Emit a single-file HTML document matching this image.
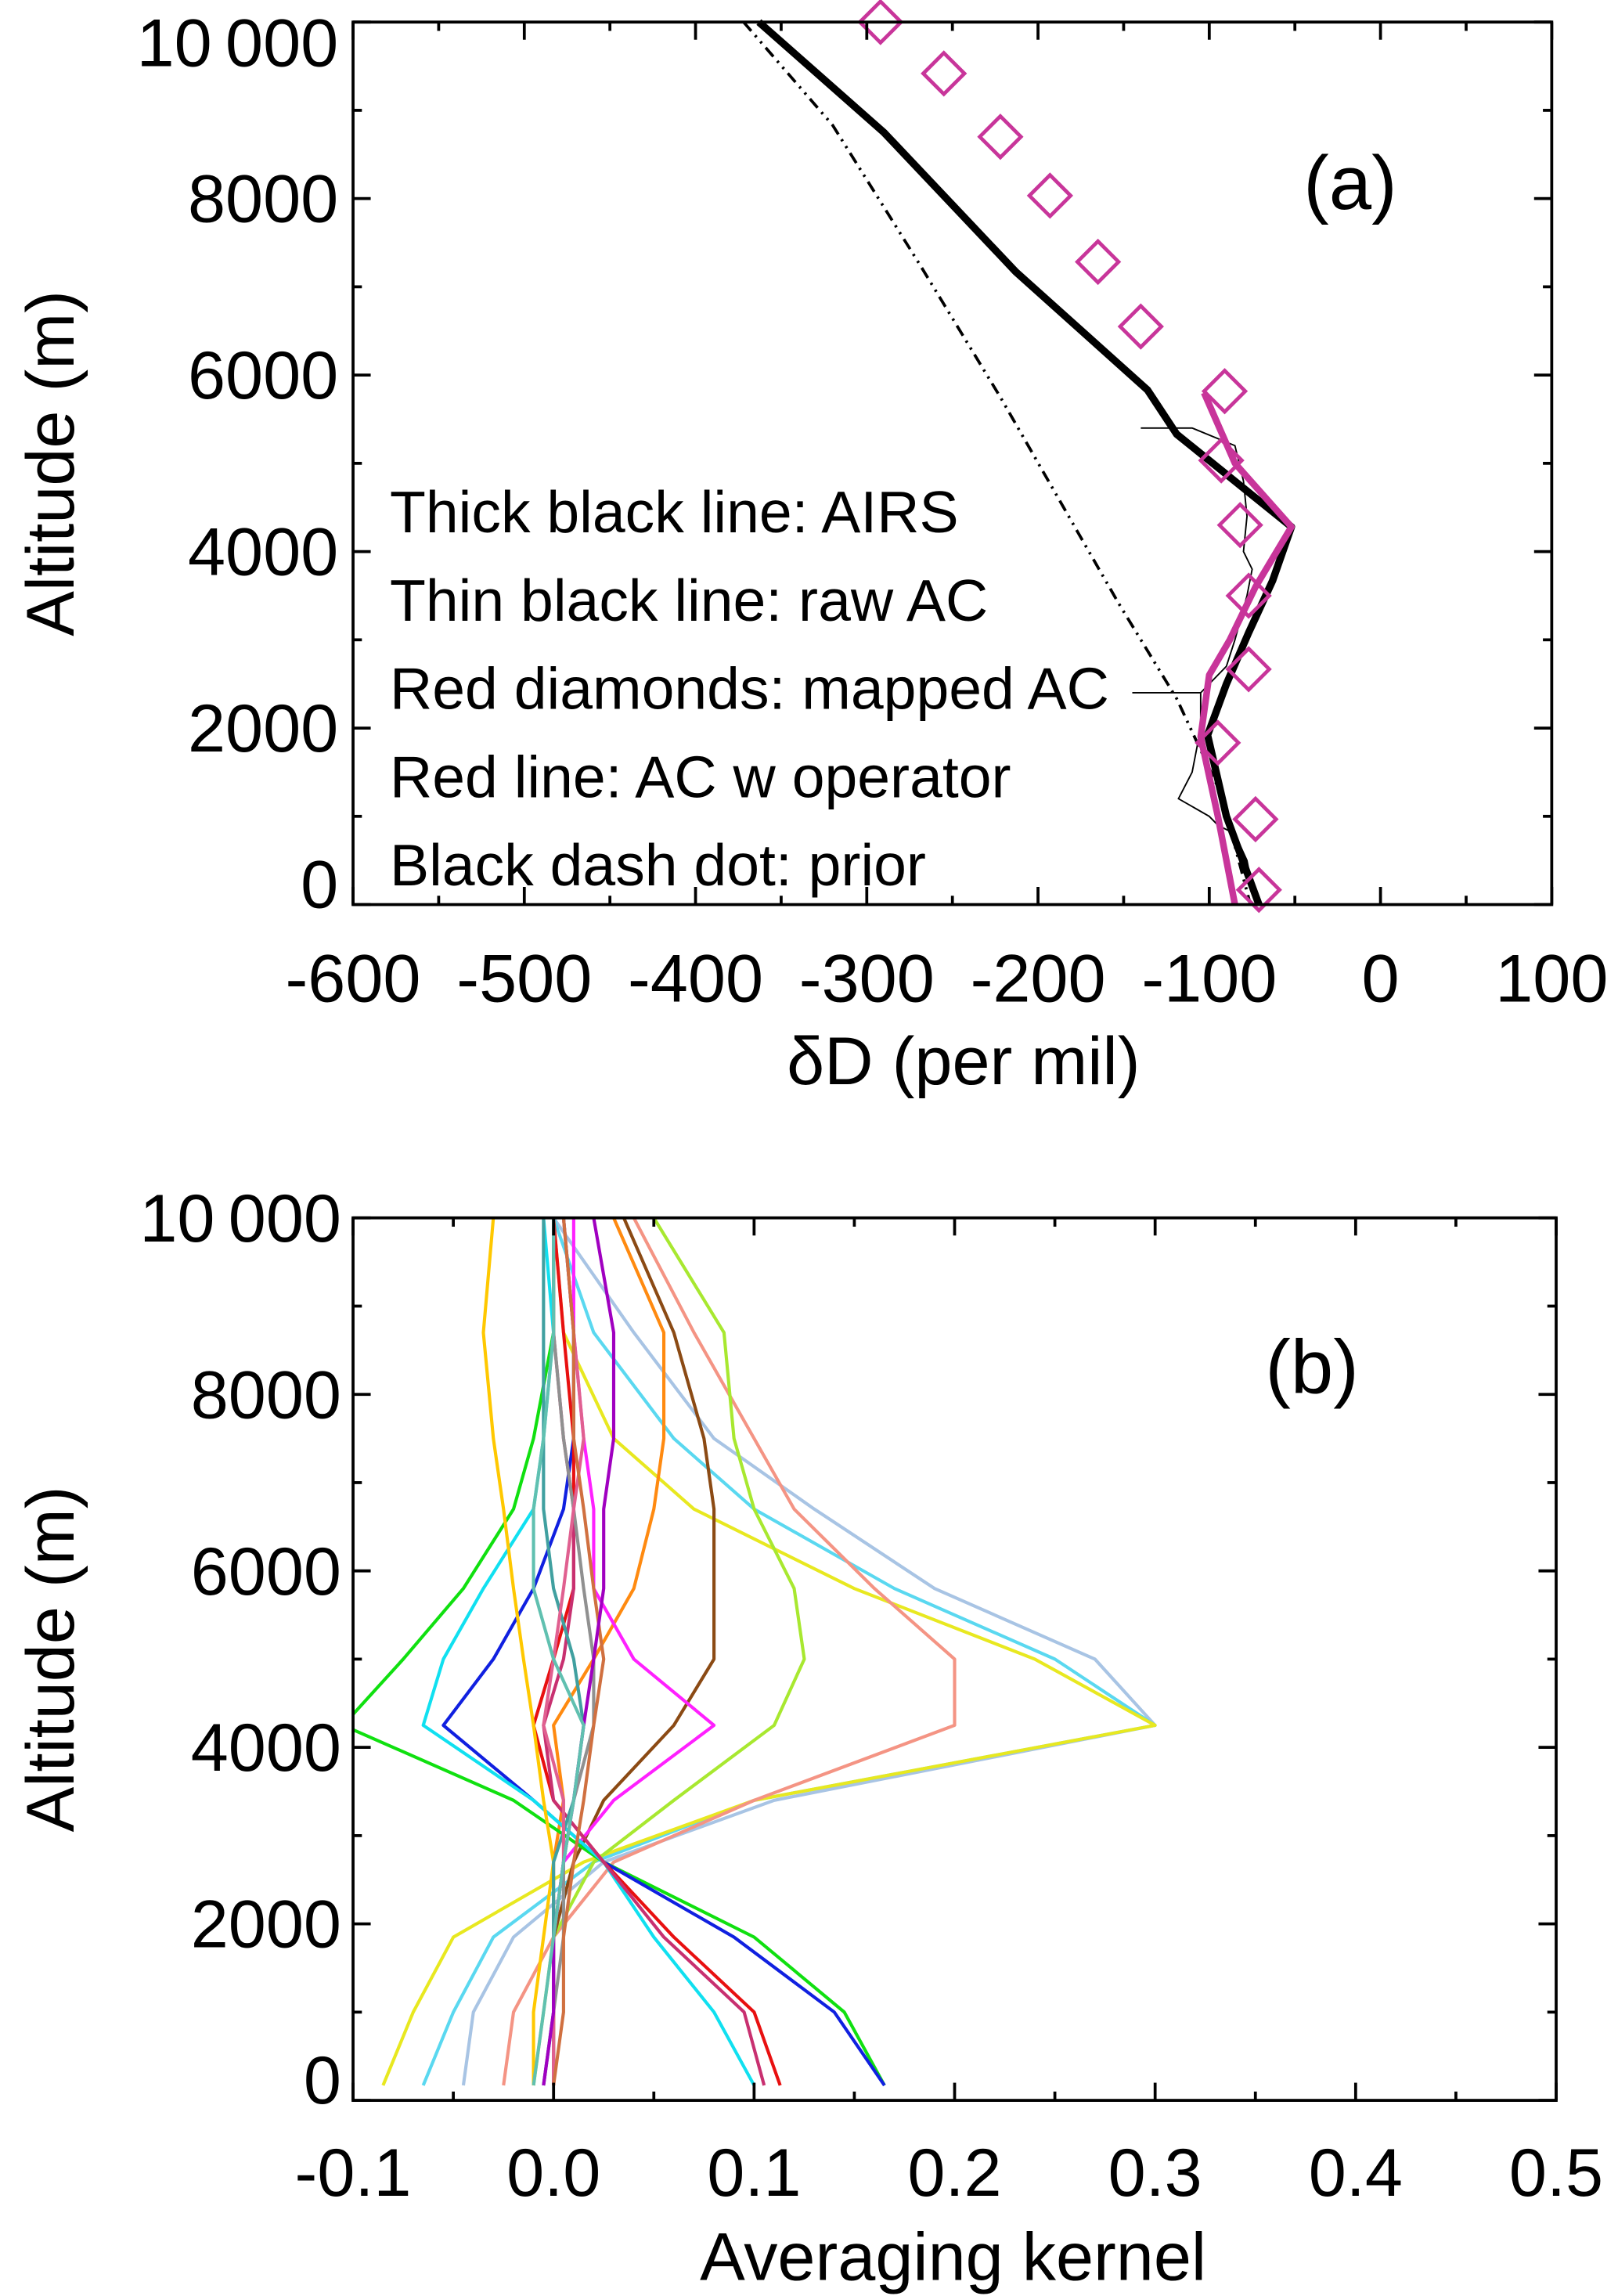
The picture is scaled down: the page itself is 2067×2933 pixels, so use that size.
<!DOCTYPE html>
<html><head><meta charset="utf-8"><style>
html,body{margin:0;padding:0;background:#fff}
svg{display:block}
text{font-family:"Liberation Sans",sans-serif;fill:#000}
</style></head><body>
<svg id="fig" width="2067" height="2933" viewBox="0 0 1100 1561" xmlns="http://www.w3.org/2000/svg">
<g id="pa"></g>
<g id="pb"></g>
</svg>
<script>
// ---- Panel (a) data ----
const aTicksX = [-600,-500,-400,-300,-200,-100,0,100];
const aTicksY = [0,2000,4000,6000,8000,10000];
const aTickLabelsY = ["0","2000","4000","6000","8000","10\u2009000"];
const airsAlt = [10000,8750,7170,5830,5330,4280,3670,3080,2500,1920,1000,0];
const airsVal = [-363,-290,-213,-136,-119,-52,-63,-77,-90,-101,-90,-71];
const opAlt = [5800,5000,4280,3600,3000,2600,1900,1000,0];
const opVal = [-103,-85,-52,-73,-88,-100,-105,-95,-85];
const diaAlt = [10000,9417,8700,8033,7283,6550,5817,5033,4300,3500,2667,1833,967,167];
const diaVal = [-292,-255,-222,-193,-165,-140,-91,-93,-82,-77,-77,-95,-73,-71];
const priorAlt = [10000,8833,7250,5750,3417,2333,1250,0];
const priorVal = [-372,-320,-269,-222,-153,-119,-93,-76];
const rawAlt = [5400,5400,5200,4800,4400,4000,3800,3500,3000,2700,2400,2400,2400,2000,1500,1200,1000,900,800,500,200];
const rawVal = [-140,-110,-85,-80,-78,-80,-75,-78,-85,-90,-105,-145,-105,-105,-110,-118,-100,-95,-85,-78,-75];

// ---- Panel (b) data ----
const bTicksX = [-0.1,0.0,0.1,0.2,0.3,0.4,0.5];
const bTicksY = [0,2000,4000,6000,8000,10000];
const kAlt = [170,1000,1850,2700,3400,4250,5000,5800,6700,7500,8700,10000];
const kColors = ["#a8c4e4","#5ad8f0","#e8e820","#f49484","#a8e830","#8b4a14","#ff8a10","#ff20ff","#10e010","#1020e0","#10e0f0","#e81010","#c83070","#ffc800","#40a0a0","#909090","#e06090","#d07040","#a000c0","#60c0b0"];
const k0 = [-0.045,-0.04,-0.02,0.025,0.11,0.30,0.27,0.19,0.13,0.08,0.04,0.0];
const k1 = [-0.065,-0.05,-0.03,0.02,0.10,0.30,0.25,0.17,0.10,0.06,0.02,0.0];
const k2 = [-0.085,-0.07,-0.05,0.015,0.10,0.30,0.24,0.15,0.07,0.03,0.005,0.0];
const k3 = [-0.025,-0.02,0.0,0.03,0.10,0.20,0.20,0.16,0.12,0.10,0.07,0.04];
const k4 = [-0.01,-0.005,0.0,0.02,0.06,0.11,0.125,0.12,0.10,0.09,0.085,0.05];
const k5 = [0.0,0.0,0.0,0.01,0.025,0.06,0.08,0.08,0.08,0.075,0.06,0.035];
const k6 = [0.0,0.0,0.0,0.0,0.005,0.0,0.02,0.04,0.05,0.055,0.055,0.03];
const k7 = [-0.005,0.0,0.0,0.005,0.03,0.08,0.04,0.02,0.02,0.015,0.01,0.01];
const k8 = [0.165,0.145,0.10,0.025,-0.02,-0.105,-0.075,-0.045,-0.02,-0.01,0.0,0.0];
const k9 = [0.165,0.14,0.09,0.025,-0.01,-0.055,-0.03,-0.01,0.005,0.01,0.01,0.005];
const k10 = [0.10,0.08,0.05,0.025,-0.01,-0.065,-0.055,-0.035,-0.01,-0.005,0.0,-0.005];
const k11 = [0.113,0.10,0.06,0.025,0.0,-0.01,0.0,0.01,0.01,0.01,0.005,0.0];
const k12 = [0.105,0.095,0.055,0.025,0.0,-0.005,0.005,0.01,0.01,0.005,0.0,0.0];
const k13 = [-0.01,-0.01,-0.005,0.0,-0.005,-0.01,-0.015,-0.02,-0.025,-0.03,-0.035,-0.03];
const k14 = [-0.005,0.0,0.0,0.0,0.01,0.015,0.01,0.0,-0.005,-0.005,-0.005,-0.005];
const k15 = [0.0,0.0,0.005,0.005,0.01,0.02,0.02,0.015,0.01,0.005,0.0,0.0];
const k16 = [0.0,0.0,0.0,0.005,0.005,-0.005,0.0,0.005,0.01,0.015,0.01,0.005];
const k17 = [0.0,0.005,0.005,0.01,0.015,0.02,0.025,0.02,0.015,0.01,0.01,0.005];
const k18 = [-0.005,0.0,0.0,0.005,0.01,0.015,0.02,0.025,0.025,0.03,0.03,0.02];
const k19 = [-0.01,-0.005,0.0,0.005,0.01,0.015,0.0,-0.01,-0.01,-0.005,0.0,0.0];
const kSeries = [k0,k1,k2,k3,k4,k5,k6,k7,k8,k9,k10,k11,k12,k13,k14,k15,k16,k17,k18,k19];

const NS = "http://www.w3.org/2000/svg";
function mk(parent, tag, attrs, name){
  const e = document.createElementNS(NS, tag);
  for (const k in attrs) e.setAttribute(k, attrs[k]);
  
  
  parent.appendChild(e);
  return e;
}
function txt(parent, x, y, s, size, anchor, name, fill, extra){
  const t = mk(parent, 'text', Object.assign({x:x, y:y, 'font-size':size, 'text-anchor':anchor||'start'}, extra||{}), name);
  if (fill) t.setAttribute('fill', fill);
  t.textContent = s;
  return t;
}
function pathOf(xs, ys, fx, fy){
  return xs.map((v,i)=>(i?'L':'M')+fx(v).toFixed(1)+','+fy(ys[i]).toFixed(1)).join(' ');
}
const TF = 46;

// ---- Panel (a) ----
const pa = document.getElementById('pa');
const aL=240,aR=1055,aT=15,aB=615;
const ax = v => aL + (v+600)/700*(aR-aL);
const ay = v => aB - v/10000*(aB-aT);
mk(pa,'path',{d:pathOf(priorVal,priorAlt,ax,ay),fill:'none',stroke:'#000','stroke-width':2,'stroke-dasharray':'8,4,1.5,4,1.5,4'},'prior-line');
mk(pa,'path',{d:pathOf(rawVal,rawAlt,ax,ay),fill:'none',stroke:'#000','stroke-width':1},'raw-ac-line');
mk(pa,'path',{d:pathOf(airsVal,airsAlt,ax,ay),fill:'none',stroke:'#000','stroke-width':5,'stroke-linejoin':'round'},'airs-line');
mk(pa,'path',{d:pathOf(opVal,opAlt,ax,ay),fill:'none',stroke:'#c8359a','stroke-width':4.5,'stroke-linejoin':'round'},'ac-operator-line');
diaVal.forEach((v,i)=>{
  const cx=ax(v), cy=ay(diaAlt[i]), r=14;
  mk(pa,'path',{d:`M${cx},${cy-r} L${cx+r},${cy} L${cx},${cy+r} L${cx-r},${cy} Z`,fill:'none',stroke:'#c8359a','stroke-width':2.5},'mapped-ac-diamond');
});
mk(pa,'rect',{x:aL,y:aT,width:aR-aL,height:aB-aT,fill:'none',stroke:'#000','stroke-width':2},'plot-frame-a');
aTicksX.forEach(v=>{
  mk(pa,'line',{x1:ax(v),x2:ax(v),y1:aB,y2:aB-12,stroke:'#000','stroke-width':2},'x-tick-a');
  mk(pa,'line',{x1:ax(v),x2:ax(v),y1:aT,y2:aT+12,stroke:'#000','stroke-width':2},'x-tick-a-top');
  txt(pa,ax(v),681,String(v),TF,'middle','x-tick-label-a');
});
for(let v=-550;v<100;v+=100){
  mk(pa,'line',{x1:ax(v),x2:ax(v),y1:aB,y2:aB-6,stroke:'#000','stroke-width':2},'x-minor-tick-a');
  mk(pa,'line',{x1:ax(v),x2:ax(v),y1:aT,y2:aT+6,stroke:'#000','stroke-width':2},'x-minor-tick-a-top');
}
aTicksY.forEach((v,i)=>{
  mk(pa,'line',{x1:aL,x2:aL+12,y1:ay(v),y2:ay(v),stroke:'#000','stroke-width':2},'y-tick-a');
  mk(pa,'line',{x1:aR,x2:aR-12,y1:ay(v),y2:ay(v),stroke:'#000','stroke-width':2},'y-tick-a-right');
  txt(pa,230,(v===10000?aT+14:ay(v))+(v===0?2:16),aTickLabelsY[i],TF,'end','y-tick-label-a');
});
for(let v=1000;v<10000;v+=2000){
  mk(pa,'line',{x1:aL,x2:aL+6,y1:ay(v),y2:ay(v),stroke:'#000','stroke-width':2},'y-minor-tick-a');
  mk(pa,'line',{x1:aR,x2:aR-6,y1:ay(v),y2:ay(v),stroke:'#000','stroke-width':2},'y-minor-tick-a-right');
}
txt(pa,655,737,'δD (per mil)',TF,'middle','x-axis-title-a');
txt(pa,0,0,'Altitude (m)',TF,'middle','y-axis-title-a',null,{transform:'translate(50,315) rotate(-90)'});
txt(pa,918,142,'(a)',52,'middle','panel-label-a');
const legA=[['Thick black line: AIRS','#000'],['Thin black line: raw AC','#000'],['Red diamonds: mapped AC','#c8359a'],['Red line: AC w operator','#c8359a'],['Black dash dot: prior','#000']];
legA.forEach((l,i)=>txt(pa,265,362+i*60,l[0],40,'start','legend-entry-a',l[1]));

// ---- Panel (b) ----
const pb = document.getElementById('pb');
const bL=240,bR=1058,bT=828,bB=1428;
const bx = v => bL + (v+0.1)/0.6*(bR-bL);
const by = v => bB - v/10000*(bB-bT);
const clip = mk(pb,'clipPath',{id:'cb'},'clip-b');
mk(clip,'rect',{x:bL,y:bT,width:bR-bL,height:bB-bT},'clip-rect');
const lines = mk(pb,'g',{'clip-path':'url(#cb)'},'kernel-lines');
kSeries.forEach((s,i)=>{
  mk(lines,'path',{d:pathOf(s,kAlt,bx,by),fill:'none',stroke:kColors[i],'stroke-width':2.2,'stroke-linejoin':'round'},'kernel-line');
});
mk(pb,'rect',{x:bL,y:bT,width:bR-bL,height:bB-bT,fill:'none',stroke:'#000','stroke-width':2},'plot-frame-b');
bTicksX.forEach(v=>{
  mk(pb,'line',{x1:bx(v),x2:bx(v),y1:bB,y2:bB-12,stroke:'#000','stroke-width':2},'x-tick-b');
  mk(pb,'line',{x1:bx(v),x2:bx(v),y1:bT,y2:bT+12,stroke:'#000','stroke-width':2},'x-tick-b-top');
  txt(pb,bx(v),1493,v.toFixed(1),TF,'middle','x-tick-label-b');
});
for(let v=-0.05;v<0.5;v+=0.1){
  mk(pb,'line',{x1:bx(v),x2:bx(v),y1:bB,y2:bB-6,stroke:'#000','stroke-width':2},'x-minor-tick-b');
  mk(pb,'line',{x1:bx(v),x2:bx(v),y1:bT,y2:bT+6,stroke:'#000','stroke-width':2},'x-minor-tick-b-top');
}
bTicksY.forEach((v,i)=>{
  mk(pb,'line',{x1:bL,x2:bL+12,y1:by(v),y2:by(v),stroke:'#000','stroke-width':2},'y-tick-b');
  mk(pb,'line',{x1:bR,x2:bR-12,y1:by(v),y2:by(v),stroke:'#000','stroke-width':2},'y-tick-b-right');
  txt(pb,232,by(v)+(v===0?2:16),aTickLabelsY[i],TF,'end','y-tick-label-b');
});
for(let v=1000;v<10000;v+=2000){
  mk(pb,'line',{x1:bL,x2:bL+6,y1:by(v),y2:by(v),stroke:'#000','stroke-width':2},'y-minor-tick-b');
  mk(pb,'line',{x1:bR,x2:bR-6,y1:by(v),y2:by(v),stroke:'#000','stroke-width':2},'y-minor-tick-b-right');
}
txt(pb,648,1550,'Averaging kernel',TF,'middle','x-axis-title-b');
txt(pb,0,0,'Altitude (m)',TF,'middle','y-axis-title-b',null,{transform:'translate(50,1128) rotate(-90)'});
txt(pb,892,947,'(b)',52,'middle','panel-label-b');
</script>
</body></html>
